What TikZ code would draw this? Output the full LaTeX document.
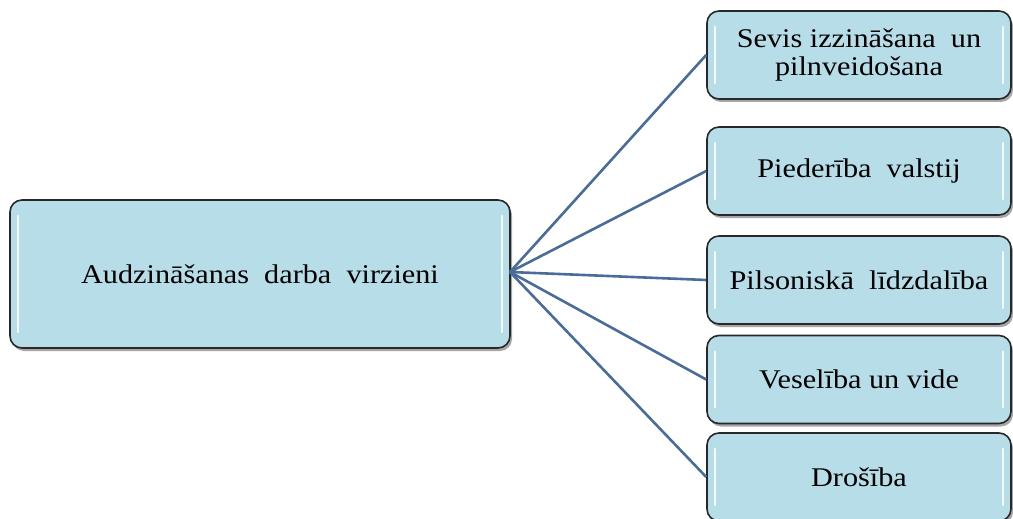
\documentclass[tikz,border=0pt]{standalone}
\usepackage{fontspec}
\setmainfont[FakeStretch=1.12]{Liberation Serif}
\usetikzlibrary{shadows}
\definecolor{boxfill}{RGB}{183,221,232}
\definecolor{boxline}{RGB}{40,40,40}
\definecolor{conn}{RGB}{74,108,155}
\tikzset{
  glossbox/.style={draw=boxline, line width=1.6pt, fill=boxfill, rounded corners=12pt,
    minimum width=#1, inner sep=0pt, align=center, font=\fontsize{27}{28}\selectfont,
    drop shadow={shadow xshift=2pt, shadow yshift=-3pt, opacity=0.35, fill=black},
    path picture={
      \draw[white, line width=2.2pt, opacity=0.85, line cap=round]
        ([xshift=8pt,yshift=-16pt]path picture bounding box.north west) --
        ([xshift=8pt,yshift=16pt]path picture bounding box.south west);
      \draw[white, line width=2.2pt, opacity=0.85, line cap=round]
        ([xshift=-8pt,yshift=-16pt]path picture bounding box.north east) --
        ([xshift=-8pt,yshift=16pt]path picture bounding box.south east);
    }},
  connector/.style={draw=conn, line width=2.6pt}
}
\begin{document}
\begin{tikzpicture}[x=1pt, y=-1pt]
\useasboundingbox (0,0) rectangle (1013,519);
\node[glossbox=500pt, minimum height=148pt] (L) at (260,274) {Audzināšanas\ \ darba\ \ virzieni};
\node[glossbox=304pt, minimum height=88pt] (R1) at (859,55) {Sevis izzināšana\ \ un\\pilnveidošana};
\node[glossbox=304pt, minimum height=88pt] (R2) at (859,171) {Piederība\ \ valstij};
\node[glossbox=304pt, minimum height=88pt] (R3) at (859,280) {Pilsoniskā\ \ līdzdalība};
\node[glossbox=304pt, minimum height=88pt] (R4) at (859,379.5) {Veselība un vide};
\node[glossbox=304pt, minimum height=88pt] (R5) at (859,477) {Drošība};
\coordinate (hub) at (510,272);
\foreach \n in {R1,R2,R3,R4,R5}
  \draw[connector] (hub) -- (\n.west);
\end{tikzpicture}
\end{document}
